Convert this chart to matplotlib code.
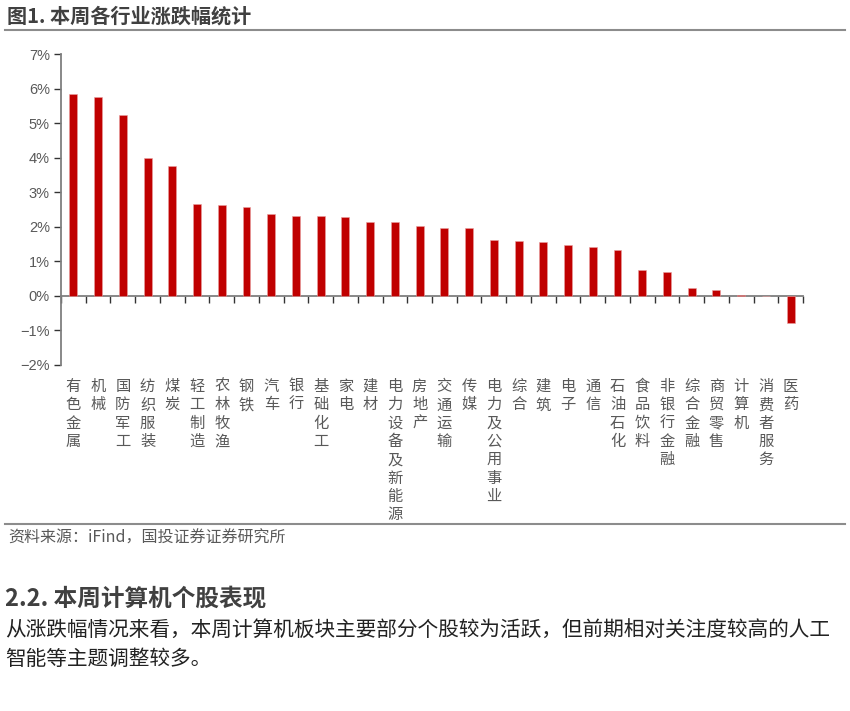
import numpy as np
import matplotlib.pyplot as plt
import matplotlib.transforms as mtransforms

plt.rcParams['font.family'] = ['Noto Sans CJK SC', 'DejaVu Sans']

industries = ["有色金属", "机械", "国防军工", "纺织服装", "煤炭", "轻工制造", "农林牧渔",
              "钢铁", "汽车", "银行", "基础化工", "家电", "建材", "电力设备及新能源",
              "房地产", "交通运输", "传媒", "电力及公用事业", "综合", "建筑", "电子",
              "通信", "石油石化", "食品饮料", "非银行金融", "综合金融", "商贸零售",
              "计算机", "消费者服务", "医药"]
changes = [5.84, 5.76, 5.24, 4.00, 3.75, 2.65, 2.62, 2.58, 2.36, 2.32, 2.30, 2.28,
           2.15, 2.13, 2.03, 1.97, 1.96, 1.61, 1.60, 1.55, 1.48, 1.41, 1.33, 0.74,
           0.70, 0.24, 0.16, 0.02, -0.01, -0.79]
yticks = [-2, -1, 0, 1, 2, 3, 4, 5, 6, 7]

W, H = 850, 711
fig = plt.figure(figsize=(W / 100, H / 100), dpi=100)

# chart axes placed in pixel terms
left, right, top, bottom = 61, 803, 54, 365
ax = fig.add_axes([left / W, 1 - bottom / H, (right - left) / W, (bottom - top) / H])

x = np.arange(len(industries))
ax.bar(x, changes, width=0.32, color='#C00000', edgecolor='#E8A0A0', linewidth=0.4, zorder=3)

ax.set_xlim(-0.5, len(industries) - 0.5)
ax.set_ylim(-2, 7)
ax.set_yticks(yticks)
ax.set_yticklabels([f"{v}%".replace("-", "\u2212") for v in yticks],
                   fontsize=10.5, color='#595959', family=['Liberation Sans', 'DejaVu Sans'])
ax.set_xticks(np.arange(-0.5, len(industries), 1))
ax.set_xticklabels([])

for s in ['top', 'right']:
    ax.spines[s].set_visible(False)
ax.spines['bottom'].set_position(('data', 0))
ax.spines['bottom'].set_color('#7f7f7f')
ax.spines['bottom'].set_linewidth(1.3)
ax.spines['left'].set_color('#7f7f7f')
ax.spines['left'].set_linewidth(1.3)
ax.tick_params(axis='x', direction='out', length=5, width=1, color='#333333')
ax.tick_params(axis='y', direction='out', length=5, width=1, color='#333333', pad=3)

# vertical category labels under the plot
trans = mtransforms.blended_transform_factory(ax.transData, ax.transAxes)
for i, name in enumerate(industries):
    ax.text(i, -13 / (bottom - top), "\n".join(name), transform=trans,
            ha='center', va='top', fontsize=11, color='#595959', linespacing=1.1)

# header and footer of the report block
fig.text(7 / W, 1 - 16 / H, "图1. 本周各行业涨跌幅统计", fontsize=14.5, fontweight='bold',
         color='#404040', ha='left', va='center')
fig.add_artist(plt.Line2D([5 / W, 845 / W], [1 - 30 / H, 1 - 30 / H], color='#8c8c8c', lw=1.5))
fig.add_artist(plt.Line2D([5 / W, 845 / W], [1 - 524 / H, 1 - 524 / H], color='#8c8c8c', lw=1.5))
fig.text(8 / W, 1 - 538 / H, "资料来源：iFind，国投证券证券研究所", fontsize=11.5,
         color='#595959', ha='left', va='center', style='italic')

fig.text(5 / W, 1 - 598 / H, "2.2. 本周计算机个股表现", fontsize=17, fontweight='bold',
         color='#404040', ha='left', va='center')
fig.text(5 / W, 1 - 631 / H,
         "从涨跌幅情况来看，本周计算机板块主要部分个股较为活跃，但前期相对关注度较高的人工",
         fontsize=14.9, color='#222222', ha='left', va='center')
fig.text(5 / W, 1 - 659 / H, "智能等主题调整较多。", fontsize=14.9, color='#222222',
         ha='left', va='center')

fig.savefig("out.png", dpi=100)
